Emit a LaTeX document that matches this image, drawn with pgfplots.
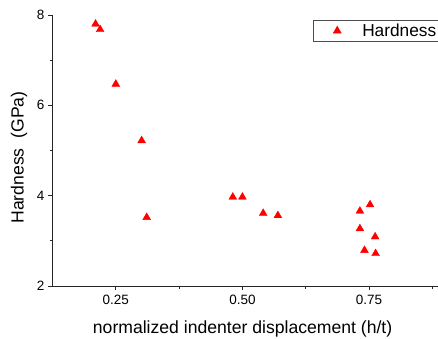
\documentclass[border=0pt]{standalone}
\usepackage{fontspec}
\setmainfont{Liberation Sans}
\usepackage{pgfplots}
\pgfplotsset{compat=1.18}

\begin{document}
\begin{tikzpicture}[x=1pt,y=1pt]
% page area
\path[use as bounding box] (0,0) rectangle (438,338);
\begin{axis}[
  at={(52pt,52pt)}, anchor=south west,
  scale only axis,
  width=393pt, height=271pt,
  xmin=0.124, xmax=0.9,
  ymin=2, ymax=8,
  axis lines*=left,
  axis line style={line width=0.9pt, black!85},
  tick align=outside,
  major tick length=4pt,
  minor tick length=2.5pt,
  tick style={line width=0.8pt, black!85},
  xtick={0.25,0.5,0.75},
  minor xtick={0.375,0.625,0.875},
  xticklabels={0.25,0.50,0.75},
  ytick={2,4,6,8},
  minor ytick={3,5,7},
  /pgf/number format/assume math mode=true,
  ticklabel style={font=\fontsize{13.5}{15}\selectfont},
  xticklabel style={yshift=-2pt},
  xlabel={normalized indenter displacement (h/t)},
  ylabel={Hardness\ \ (GPa)},
  label style={font=\fontsize{17.6}{19}\selectfont},
  xlabel style={at={(axis description cs:0.485,-0.159)}, anchor=center},
  ylabel style={at={(axis description cs:-0.084,0.474)}, anchor=center, rotate=0},
  legend style={
    at={(axis description cs:0.664,0.9815)}, anchor=north west,
    draw=black!70, line width=0.6pt,
    font=\fontsize{17.3}{19}\selectfont,
    inner xsep=0pt, inner ysep=1.5pt,
    legend cell align=left,
  },
  legend image code/.code={%
    \path[draw=none, fill=none] (0pt,-5pt) rectangle (47pt,5pt);
    \draw[#1] plot coordinates {(24pt,0pt)};
  },
  clip=false,
]
\addplot[only marks, mark=triangle*, mark size=4.5pt, color=red, mark options={fill=red, draw=red}]
  coordinates {
    (0.210,7.80) (0.219,7.68) (0.250,6.47) (0.301,5.22) (0.311,3.52)
    (0.481,3.97) (0.500,3.97) (0.541,3.61) (0.570,3.56)
    (0.732,3.66) (0.752,3.80) (0.732,3.27) (0.762,3.09)
    (0.741,2.79) (0.763,2.72)
  };
\addlegendentry{Hardness}
\end{axis}
\end{tikzpicture}
\end{document}
